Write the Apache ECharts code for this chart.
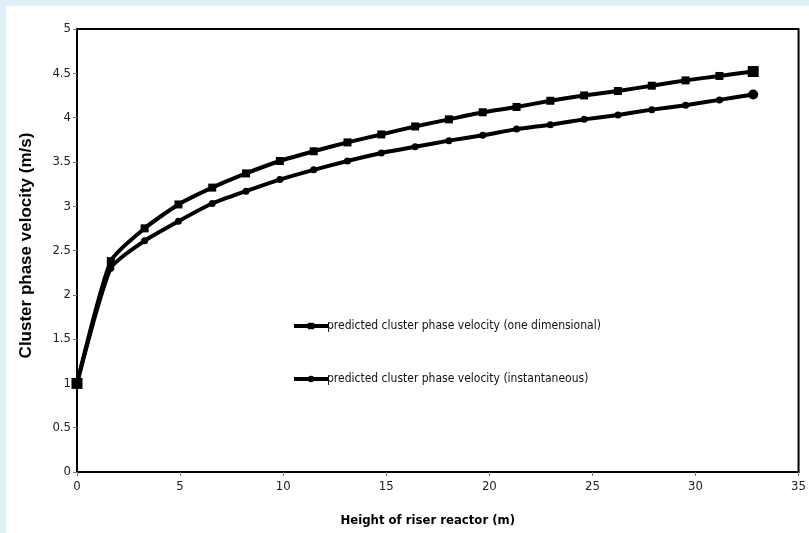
<!DOCTYPE html>
<html>
<head>
<meta charset="utf-8">
<script src="https://cdn.jsdelivr.net/npm/echarts@6/dist/echarts.min.js"></script>
<style>
  html, body { margin: 0; padding: 0; background: #dff0fa; }
  #chart { width: 809px; height: 533px; }
</style>
</head>
<body>
<div id="chart"></div>
<script>
// Height along the riser reactor (m)
const heights = [0, 1.64, 3.28, 4.92, 6.56, 8.2, 9.84, 11.48, 13.12, 14.76, 16.4,
                 18.04, 19.68, 21.32, 22.96, 24.6, 26.24, 27.88, 29.52, 31.16, 32.8];

// Predicted cluster phase velocity, one dimensional model (m/s)
const velocityOneDim = [1.0, 2.38, 2.75, 3.02, 3.21, 3.37, 3.51, 3.62, 3.72, 3.81, 3.90,
                        3.98, 4.06, 4.12, 4.19, 4.25, 4.30, 4.36, 4.42, 4.47, 4.52];

// Predicted cluster phase velocity, instantaneous model (m/s)
const velocityInstant = [1.0, 2.30, 2.61, 2.83, 3.03, 3.17, 3.30, 3.41, 3.51, 3.60, 3.67,
                         3.74, 3.80, 3.87, 3.92, 3.98, 4.03, 4.09, 4.14, 4.20, 4.26];

const seriesNames = [
  'predicted cluster phase velocity (one dimensional)',
  'predicted cluster phase velocity (instantaneous)'
];

const xTitle = 'Height of riser reactor (m)';
const yTitle = 'Cluster phase velocity (m/s)';

const narrow = '"Liberation Sans Narrow", "Arial Narrow", "DejaVu Sans Condensed", sans-serif';

function pairs(xs, ys) {
  return xs.map((x, i) => [x, ys[i]]);
}

// end markers are drawn a little larger than the inner ones
function markerSize(base, last) {
  return (value, params) => (params.dataIndex === 0 || params.dataIndex === last) ? base + 3 : base;
}

const chart = echarts.init(document.getElementById('chart'), null, { renderer: 'canvas' });

chart.setOption({
  backgroundColor: '#dff0fa',
  animation: false,
  graphic: [{
    type: 'rect',
    left: 6, top: 6,
    shape: { width: 803, height: 527 },
    style: { fill: '#ffffff' },
    z: -10
  }],
  grid: {
    left: 77, right: 6, top: 29, bottom: 61,
    show: true,
    borderColor: '#000',
    borderWidth: 2,
    backgroundColor: 'transparent'
  },
  legend: {
    orient: 'vertical',
    left: 287,
    top: 315,
    itemWidth: 34,
    itemHeight: 8,
    itemGap: 41,
    lineStyle: { width: 4 },
    textStyle: { fontFamily: narrow, fontSize: 12, color: '#111', padding: [0, 0, 0, -6] },
    data: seriesNames
  },
  xAxis: {
    type: 'value',
    min: 0, max: 35, interval: 5,
    name: xTitle,
    nameLocation: 'middle',
    nameGap: 42,
    nameTextStyle: { fontFamily: narrow, fontSize: 13, fontWeight: 'bold', color: '#000', padding: [0, 20, 0, 0] },
    axisLine: { show: true, lineStyle: { color: '#000', width: 2 } },
    axisTick: { show: true, length: 4, lineStyle: { color: '#777' } },
    axisLabel: { fontFamily: narrow, fontSize: 13, color: '#222', margin: 8 },
    splitLine: { show: false }
  },
  yAxis: {
    type: 'value',
    min: 0, max: 5, interval: 0.5,
    name: yTitle,
    nameLocation: 'middle',
    nameGap: 42,
    nameTextStyle: { fontFamily: 'Liberation Sans, Arial, sans-serif', fontSize: 17, fontWeight: 'bold', color: '#000', padding: [0, 0, 0, 10] },
    axisLine: { show: true, lineStyle: { color: '#000', width: 2 } },
    axisTick: { show: true, length: 4, lineStyle: { color: '#777' } },
    axisLabel: { fontFamily: narrow, fontSize: 13, color: '#222', margin: 6 },
    splitLine: { show: false }
  },
  series: [
    {
      name: seriesNames[0],
      type: 'line',
      smooth: 0.2,
      data: pairs(heights, velocityOneDim),
      symbol: 'rect',
      symbolSize: markerSize(8, heights.length - 1),
      showAllSymbol: true,
      lineStyle: { color: '#000', width: 4 },
      itemStyle: { color: '#000' }
    },
    {
      name: seriesNames[1],
      type: 'line',
      smooth: 0.2,
      data: pairs(heights, velocityInstant),
      symbol: 'circle',
      symbolSize: markerSize(7, heights.length - 1),
      showAllSymbol: true,
      lineStyle: { color: '#000', width: 4 },
      itemStyle: { color: '#000' }
    }
  ]
});
</script>
</body>
</html>
